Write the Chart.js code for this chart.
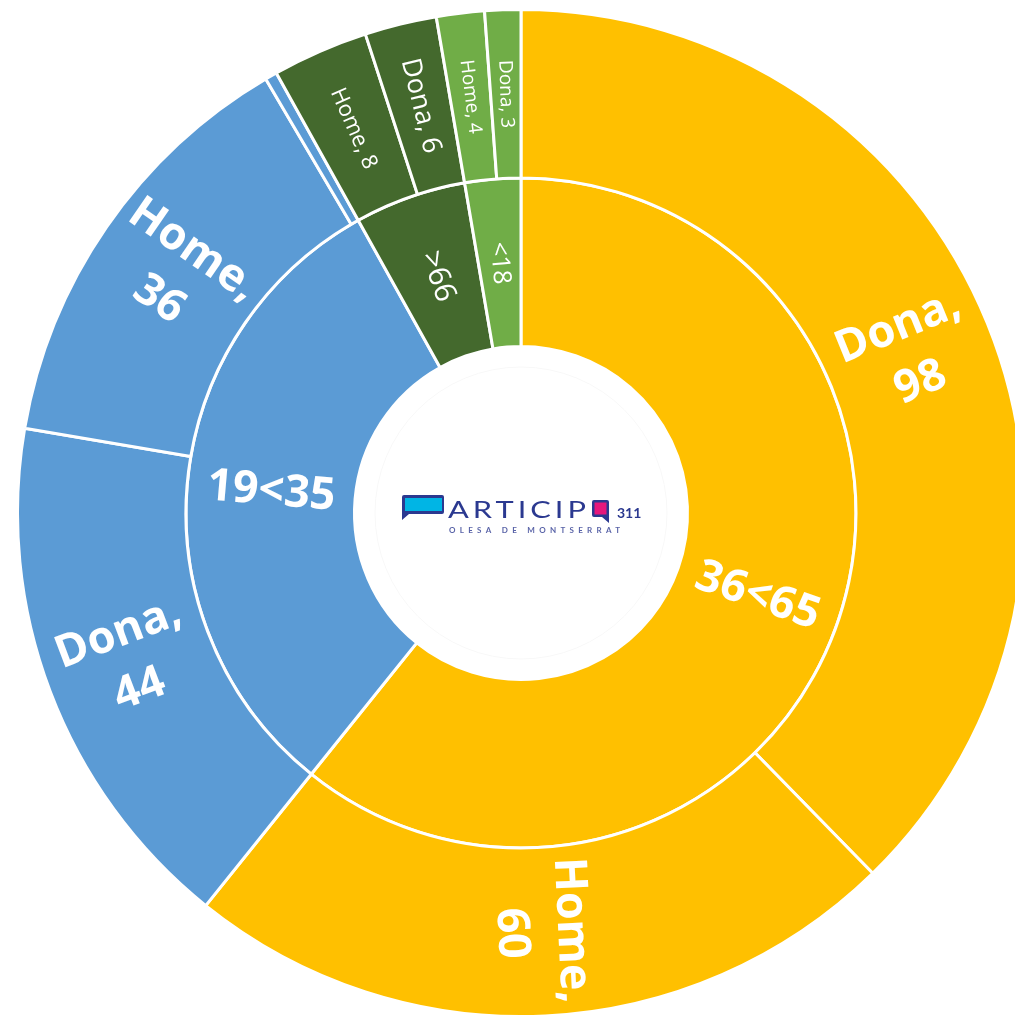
<!DOCTYPE html>
<html>
<head>
<meta charset="utf-8">
<title>Participants per edat i gènere</title>
<script src="https://cdn.jsdelivr.net/npm/chart.js@4.4.1/dist/chart.umd.min.js"></script>
<style>
  html, body { margin: 0; padding: 0; width: 1015px; height: 1015px; overflow: hidden; background: #fff; }
  #wrap { position: absolute; left: 16px; top: 8px; width: 1010px; height: 1010px; }
</style>
</head>
<body>
<div id="wrap"><canvas id="myChart"></canvas></div>
<script>
// inner ring: age groups
var ageGroups = ['36<65', '19<35', '>66', '<18'];
// outer ring: gender split, in drawing order (clockwise from the top)
var genders = ['Dona', 'Home', 'Dona', 'Home', '', 'Home', 'Dona', 'Home', 'Dona'];
var counts = [98, 60, 44, 36, 1, 8, 6, 4, 3];
// which age group each outer slice belongs to
var groupOf = [0, 0, 1, 1, 1, 2, 2, 3, 3];

var ageColors = ['#FFC000', '#5B9BD5', '#44692D', '#70AD47'];

// label font sizes per slice
var outerSizes = [45, 45, 45, 45, 0, 22, 27, 19, 19];
var innerSizes = [45, 45, 30, 25];

var ageTotals = ageGroups.map(function (g, i) {
    return counts.reduce(function (s, v, j) { return groupOf[j] === i ? s + v : s; }, 0);
});

var outerText = genders.map(function (g, j) {
    if (!g) return '';
    return outerSizes[j] >= 30 ? g + ',\n' + counts[j] : g + ', ' + counts[j];
});

// text along the radius of each slice
var ringLabels = {
    id: 'ringLabels',
    afterDatasetsDraw: function (chart) {
        var ctx = chart.ctx;
        chart.data.datasets.forEach(function (ds, di) {
            var meta = chart.getDatasetMeta(di);
            meta.data.forEach(function (arc, j) {
                var text = ds.labelText[j];
                var size = ds.labelSize[j];
                if (!text) return;
                var p = arc.getProps(['x', 'y', 'startAngle', 'endAngle', 'innerRadius', 'outerRadius'], true);
                var a = (p.startAngle + p.endAngle) / 2;
                var r = (p.innerRadius + p.outerRadius) / 2;
                var rot = Math.cos(a) < 0 ? a + Math.PI : a;
                var lines = text.split('\n');
                var lh = size * 1.33;
                ctx.save();
                ctx.translate(p.x + r * Math.cos(a), p.y + r * Math.sin(a));
                ctx.rotate(rot);
                ctx.fillStyle = '#fff';
                ctx.textAlign = 'center';
                ctx.textBaseline = 'middle';
                ctx.font = (size >= 40 ? '700 ' : '500 ') + size + 'px "Open Sans"';
                lines.forEach(function (ln, k) {
                    ctx.fillText(ln, 0, (k - (lines.length - 1) / 2) * lh);
                });
                ctx.restore();
            });
        });
    }
};

function bubble(ctx, x, y, w, h, tailLeft) {
    ctx.beginPath();
    ctx.moveTo(x + 2, y);
    ctx.lineTo(x + w - 2, y);
    ctx.quadraticCurveTo(x + w, y, x + w, y + 2);
    if (tailLeft) {
        ctx.lineTo(x + w, y + h - 2);
        ctx.quadraticCurveTo(x + w, y + h, x + w - 2, y + h);
        ctx.lineTo(x + 7, y + h);
        ctx.lineTo(x, y + h + 6);
        ctx.lineTo(x, y + 2);
    } else {
        ctx.lineTo(x + w, y + h + 6);
        ctx.lineTo(x + w - 7, y + h);
        ctx.lineTo(x + 2, y + h);
        ctx.quadraticCurveTo(x, y + h, x, y + h - 2);
        ctx.lineTo(x, y + 2);
    }
    ctx.quadraticCurveTo(x, y, x + 2, y);
    ctx.closePath();
}

// logo in the hole
var centerLogo = {
    id: 'centerLogo',
    afterDraw: function (chart) {
        var ctx = chart.ctx;
        var arc = chart.getDatasetMeta(1).data[0];
        var cx = arc.x, cy = arc.y;
        var navy = '#2B3990';
        ctx.save();
        ctx.translate(cx, cy);

        ctx.strokeStyle = '#f8f8f8';
        ctx.lineWidth = 1;
        ctx.beginPath();
        ctx.arc(0, 0, 146, 0, Math.PI * 2);
        ctx.stroke();

        bubble(ctx, -119, -18, 42, 19, true);
        ctx.fillStyle = navy;
        ctx.fill();
        ctx.fillStyle = '#00B5E5';
        ctx.fillRect(-116, -15, 37, 13);

        bubble(ctx, 71, -13, 17, 17, false);
        ctx.fillStyle = navy;
        ctx.fill();
        ctx.fillStyle = '#E6177C';
        ctx.fillRect(73.5, -10.5, 12, 12);

        ctx.fillStyle = navy;
        ctx.textBaseline = 'alphabetic';
        ctx.textAlign = 'left';
        ctx.font = '400 23px Lato';
        ctx.letterSpacing = '3px';
        var w = ctx.measureText('ARTICIP').width;
        ctx.save();
        ctx.translate(-73, 5);
        ctx.scale(142 / w, 1);
        ctx.fillText('ARTICIP', 0, 0);
        ctx.restore();

        ctx.letterSpacing = '0px';
        ctx.font = '700 14px Lato';
        ctx.fillText('311', 96, 5);

        ctx.fillStyle = '#5A64A8';
        ctx.font = '700 8px Lato';
        ctx.letterSpacing = '4.3px';
        ctx.fillText('OLESA DE MONTSERRAT', -72, 19.5);
        ctx.restore();
    }
};

var ctx = document.getElementById('myChart');

var myChart = new Chart(ctx, {
    type: 'doughnut',
    data: {
        labels: genders,
        datasets: [
            {
                data: counts,
                backgroundColor: groupOf.map(function (g) { return ageColors[g]; }),
                labelText: outerText,
                labelSize: outerSizes
            },
            {
                data: ageTotals,
                backgroundColor: ageColors,
                labelText: ageGroups,
                labelSize: innerSizes
            }
        ]
    },
    options: {
        responsive: true,
        maintainAspectRatio: false,
        animation: false,
        events: [],
        cutout: '33.07%',
        layout: { padding: 0 },
        elements: {
            arc: { borderColor: '#fff', borderWidth: 3, hoverOffset: 0, offset: 0 }
        },
        plugins: {
            legend: { display: false },
            tooltip: { enabled: false }
        }
    },
    plugins: [ringLabels, centerLogo]
});
</script>
</body>
</html>
